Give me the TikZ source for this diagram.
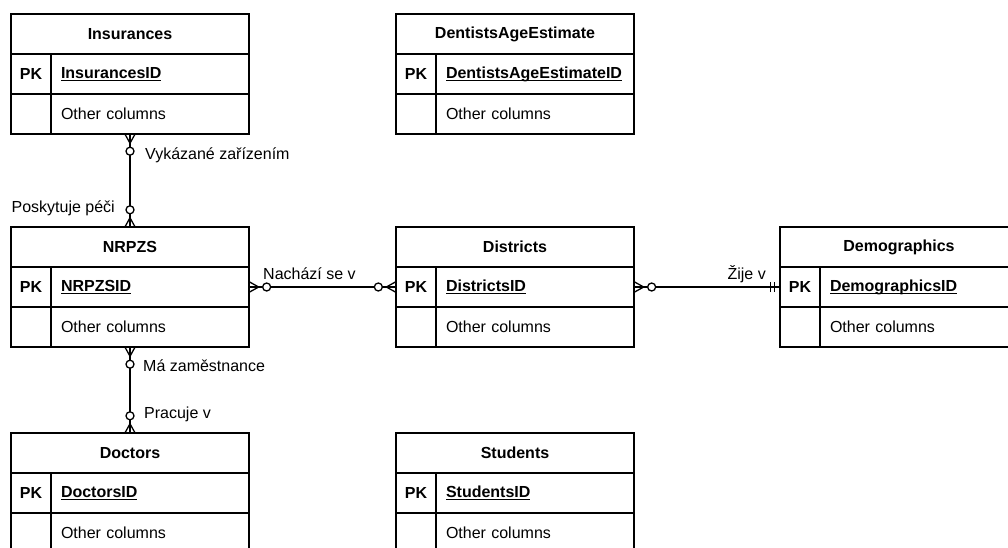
\documentclass[tikz,border=0pt]{standalone}
\usepackage{fontspec}
\setmainfont{Liberation Sans}
\newcommand\pkul[1]{\setbox0=\hbox{#1}\leavevmode\rlap{\rule[-2.6pt]{\wd0}{1.1pt}}\box0}
\tikzset{
 ln/.style={line width=1.3pt, draw=black},
 cellbase/.style={ln, rectangle, minimum height=40pt, inner sep=0pt, font=\fontsize{16pt}{19pt}\selectfont},
 hdr/.style={cellbase, minimum width=238pt, font=\fontsize{16pt}{19pt}\selectfont\bfseries},
 pkcell/.style={cellbase, minimum width=40pt, font=\fontsize{16pt}{19pt}\selectfont\bfseries},
 fcell/.style={cellbase, minimum width=198pt, text width=178pt, align=left},
 tbl/.style={rectangle, minimum width=238pt, minimum height=120pt, inner sep=0pt},
 lbl/.style={inner sep=0pt, font=\fontsize{16pt}{19pt}\selectfont},
 conn/.style={line width=1.3pt, draw=black},
}
% #1 name, #2 left, #3 top, #4 title, #5 key
\newcommand\ertable[5]{%
 \node[tbl] (#1) at (#2+119,#3+60) {};
 \node[hdr] (#1-h) at (#2+119,#3+20) {#4};
 \node[pkcell] (#1-pk) at (#2+20,#3+60) {PK};
 \node[fcell] (#1-id) at (#2+139,#3+60) {\bfseries\pkul{#5}};
 \node[pkcell] (#1-e) at (#2+20,#3+100) {};
 \node[fcell] (#1-oc) at (#2+139,#3+100) {Other columns};
}
\newcommand\zmany[2]{\begin{scope}[x=1pt,y=1pt,shift={(#1)},rotate=#2]
 \draw[conn] (0,5)--(9,0)--(0,-5);
 \draw[conn,fill=white] (17,0) circle[radius=4pt];
\end{scope}}
\newcommand\mone[2]{\begin{scope}[x=1pt,y=1pt,shift={(#1)},rotate=#2]
 \draw[conn] (5,5)--(5,-5);
 \draw[conn] (9,5)--(9,-5);
\end{scope}}
\begin{document}
\begin{tikzpicture}[x=1pt,y=-1pt]
\useasboundingbox (0,0) rectangle (1008,547);
\clip (0,0) rectangle (1008,547);
\ertable{ins}{11}{14}{Insurances}{InsurancesID}
\ertable{den}{396}{14}{DentistsAgeEstimate}{DentistsAgeEstimateID}
\ertable{nrp}{11}{227}{NRPZS}{NRPZSID}
\ertable{dis}{396}{227}{Districts}{DistrictsID}
\ertable{dem}{780}{227}{Demographics}{DemographicsID}
\ertable{doc}{11}{433}{Doctors}{DoctorsID}
\ertable{stu}{396}{433}{Students}{StudentsID}
% connectors
\draw[conn] (ins.south) -- (nrp.north);
\draw[conn] (nrp-id.east) -- (dis-pk.west);
\draw[conn] (dis-id.east) -- (dem-pk.west);
\draw[conn] (nrp.south) -- (doc.north);
\zmany{ins.south}{-90}
\zmany{nrp.north}{90}
\zmany{nrp-id.east}{0}
\zmany{dis-pk.west}{180}
\zmany{dis-id.east}{0}
\mone{dem-pk.west}{180}
\zmany{nrp.south}{-90}
\zmany{doc.north}{90}
% labels
\node[lbl, anchor=base west] (l1) at (145,159.5) {Vykázané zařízením};
\node[lbl, anchor=base east] (l2) at (115,212.5) {Poskytuje péči};
\node[lbl, anchor=base west] (l3) at (263,279.5) {Nachází se v};
\node[lbl, anchor=base east] (l4) at (766,279.5) {Žije v};
\node[lbl, anchor=base west] (l5) at (143,371) {Má zaměstnance};
\node[lbl, anchor=base west] (l6) at (144,418) {Pracuje v};
\end{tikzpicture}
\end{document}
